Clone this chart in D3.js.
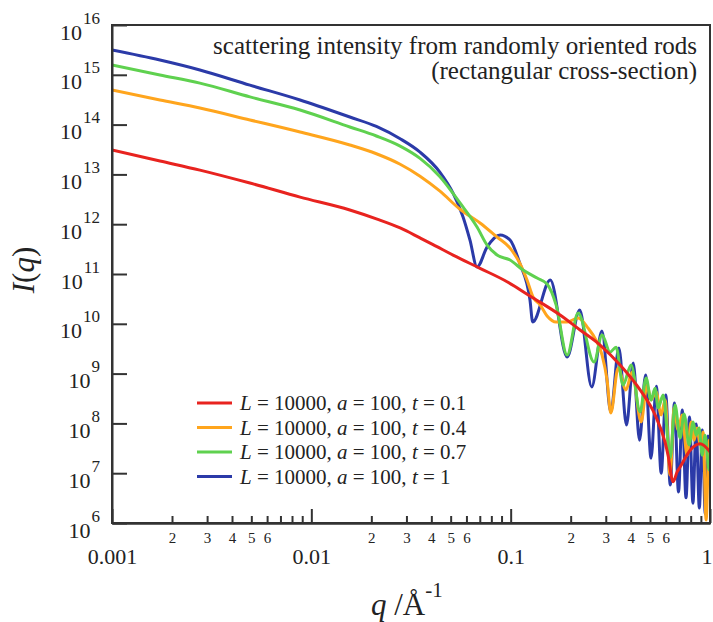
<!DOCTYPE html>
<html lang="en">
<head>
    <meta charset="UTF-8">
    <title>Scattering intensity from randomly oriented rods</title>
    <script src="https://d3js.org/d3.v7.min.js"></script>
    <style>
        html, body {
            margin: 0;
            background: #fff;
        }

        .curve {
            fill: none;
            stroke-width: 3px;
            stroke-linejoin: round;
        }

        .axis path, .axis line {
            stroke: #333;
            stroke-width: 2px;
        }
    </style>
</head>
<body>
<script>

    // values (q in 1/Angstrom, I(q))
    var qRed = [0.001, 0.00174, 0.00276, 0.00492, 0.00878, 0.0156, 0.0212, 0.0279, 0.0351, 0.0408, 0.0514, 0.0702,
        0.0959, 0.125, 0.177, 0.223, 0.281, 0.354, 0.446, 0.530, 0.595, 0.616, 0.653, 0.684, 0.708, 0.795, 0.892, 1.0];
    var iRed = [3.1e13, 1.86e13, 1.22e13, 6.7e12, 3.5e12, 1.93e12, 1.28e12, 8.4e11, 5.3e11, 3.9e11, 2.4e11, 1.3e11,
        7.0e10, 3.6e10, 1.5e10, 7.5e9, 3.75e9, 1.49e9, 4.7e8, 1.48e8, 4.2e7, 2.3e7, 6.7e6, 1.06e7, 1.33e7, 2.9e7,
        3.9e7, 2.7e7];

    var qOrange = [0.001, 0.00174, 0.00276, 0.00492, 0.00878, 0.0156, 0.0212, 0.0279, 0.0351, 0.0442, 0.0557, 0.0702,
        0.0855, 0.0993, 0.111, 0.1208, 0.1295, 0.1405, 0.1523, 0.169, 0.192, 0.218, 0.2446, 0.268, 0.2875, 0.3046,
        0.318, 0.346, 0.379, 0.4066, 0.451, 0.4835, 0.506, 0.5365, 0.5686, 0.5953, 0.631, 0.6605, 0.6918, 0.7244,
        0.7676, 0.8037, 0.8322, 0.8617, 0.892, 0.9235, 0.956, 0.990, 1.0];
    var iOrange = [4.95e14, 3.12e14, 2.15e14, 1.24e14, 7.1e13, 3.9e13, 2.6e13, 1.6e13, 9.2e12, 4.6e12, 2.0e12, 1.06e12,
        5.5e11, 3.3e11, 1.66e11, 7.6e10, 3.45e10, 2.4e10, 1.44e10, 1.09e10, 1.09e10, 1.31e10, 8.2e9, 4.7e9, 2.36e9,
        7.4e8, 1.62e8, 1.29e9, 4.7e8, 1.08e9, 1.07e8, 5.9e8, 2.95e8, 4.3e8, 1.48e8, 2.95e8, 9.2e6, 2.04e8, 7.4e7,
        1.48e8, 2.3e7, 1.07e8, 4.6e7, 8.1e7, 3.7e7, 6.7e7, 1.15e6, 4.6e7, 3.7e7];

    var qGreen = [0.001, 0.00174, 0.00276, 0.00492, 0.00878, 0.0156, 0.0212, 0.0279, 0.0351, 0.0442, 0.0557, 0.0678,
        0.0762, 0.0855, 0.0993, 0.1154, 0.1357, 0.1523, 0.169, 0.192, 0.218, 0.262, 0.2875, 0.315, 0.338, 0.366,
        0.402, 0.446, 0.478, 0.506, 0.530, 0.549, 0.582, 0.631, 0.668, 0.708, 0.741, 0.786, 0.823, 0.852, 0.882,
        0.913, 0.945, 0.990, 1.0];
    var iGreen = [1.57e15, 9.9e14, 6.8e14, 3.6e14, 1.96e14, 8.95e13, 5.9e13, 3.7e13, 2.1e13, 9.0e12, 2.67e12, 8.8e11,
        3.8e11, 2.4e11, 1.91e11, 1.2e11, 8.3e10, 6.3e10, 2.4e10, 2.36e9, 1.65e10, 1.71e9, 5.96e9, 2.7e9, 3.4e9, 5.9e8,
        1.49e9, 1.7e8, 8.2e8, 2.95e8, 5.1e8, 2.04e8, 3.7e8, 2.0e7, 2.34e8, 5.1e7, 1.55e8, 3.7e7, 1.07e8, 5.8e7,
        8.1e7, 2.3e7, 5.8e7, 1.16e7, 1.84e7];

    var qBlue = [0.001, 0.00174, 0.00276, 0.00492, 0.00878, 0.0156, 0.0212, 0.0279, 0.0351, 0.0442, 0.0514, 0.0577,
        0.0625, 0.0678, 0.0762, 0.0885, 0.0993, 0.111, 0.125, 0.129, 0.158, 0.192, 0.222, 0.255, 0.287, 0.318, 0.349,
        0.381, 0.412, 0.443, 0.475, 0.506, 0.538, 0.569, 0.600, 0.632, 0.663, 0.695, 0.726, 0.758, 0.789, 0.821,
        0.852, 0.884, 0.915, 0.947, 0.978, 1.0];
    var iBlue = [3.15e15, 1.98e15, 1.25e15, 6.2e14, 3.12e14, 1.42e14, 9.2e13, 5.2e13, 2.8e13, 1.1e13, 4.2e12, 1.4e12,
        4.8e11, 1.38e11, 3.5e11, 6.1e11, 4.8e11, 1.66e11, 3.0e10, 1.09e10, 7.6e10, 2.15e9, 1.9e10, 5.4e8, 7.2e9,
        1.7e8, 3.27e9, 9.3e7, 1.63e9, 4.6e7, 9.4e8, 2.0e7, 5.6e8, 1.0e7, 3.7e8, 5.8e6, 2.57e8, 4.2e6, 1.86e8, 3.2e6,
        1.35e8, 2.5e6, 9.7e7, 2.0e6, 7.4e7, 1.52e6, 5.6e7, 2.9e7];

    var tValues = ["0.1", "0.4", "0.7", "1"];
    var colors = ["#e8231f", "#ffa51d", "#5fd14f", "#2b3aa8"];
    var drawOrder = [3, 1, 2, 0];

    var xMajor = [0.001, 0.01, 0.1, 1];
    var xMajorLabels = ["0.001", "0.01", "0.1", "1"];
    var minorDigits = [2, 3, 4, 5, 6, 7, 8, 9];
    var labelledDigits = [2, 3, 4, 5, 6];
    var yExponents = [6, 7, 8, 9, 10, 11, 12, 13, 14, 15, 16];

    var titleLines = ["scattering intensity from randomly oriented rods", "(rectangular cross-section)"];

    var serif = '"Liberation Serif", "Times New Roman", "DejaVu Serif", serif';
    var ink = '#222';


    var width = 713, height = 622;
    var margin = {left: 112, right: 3, top: 25, bottom: 99};

    var svg = d3.select('body').append('svg')
        .attr('width', width).attr('height', height)
        .style('font-family', serif);

    var x = d3.scaleLog().domain([0.001, 1]).range([margin.left, width - margin.right]);
    var y = d3.scaleLog().domain([1e6, 1e16]).range([height - margin.bottom, margin.top]);

    var series = [
        d3.zip(qRed, iRed),
        d3.zip(qOrange, iOrange),
        d3.zip(qGreen, iGreen),
        d3.zip(qBlue, iBlue)
    ];

    svg.append('clipPath').attr('id', 'plot-clip')
        .append('rect')
        .attr('x', x.range()[0]).attr('y', y.range()[1])
        .attr('width', x.range()[1] - x.range()[0])
        .attr('height', y.range()[0] - y.range()[1]);

    var line = d3.line()
        .x(function (d) {
            return x(d[0]);
        })
        .y(function (d) {
            return y(d[1]);
        })
        .curve(d3.curveMonotoneX);

    var curves = svg.append('g').attr('clip-path', 'url(#plot-clip)');
    drawOrder.forEach(function (k) {
        curves.append('path')
            .attr('class', 'curve')
            .attr('stroke', colors[k])
            .attr('d', line(series[k]));
    });

    // frame
    svg.append('rect')
        .attr('x', x.range()[0]).attr('y', y.range()[1])
        .attr('width', x.range()[1] - x.range()[0])
        .attr('height', y.range()[0] - y.range()[1])
        .attr('fill', 'none').attr('stroke', '#333').attr('stroke-width', 2);

    function styleText(sel, size) {
        sel.style('font-family', serif).style('font-size', size).style('fill', ink);
    }

    // x axis: major ticks
    var xAxisMajor = d3.axisBottom(x)
        .tickValues(xMajor)
        .tickSize(-14)
        .tickSizeOuter(0)
        .tickPadding(25)
        .tickFormat(function (d) {
            return xMajorLabels[xMajor.indexOf(d)];
        });

    var xMinor = [];
    xMajor.slice(0, 3).forEach(function (dec) {
        minorDigits.forEach(function (m) {
            xMinor.push(+(dec * m).toPrecision(3));
        });
    });

    var xAxisMinor = d3.axisBottom(x)
        .tickValues(xMinor)
        .tickSize(-7)
        .tickSizeOuter(0)
        .tickPadding(9)
        .tickFormat(function (d) {
            var digit = Math.round(d / Math.pow(10, Math.floor(Math.log10(d) + 1e-9)));
            return labelledDigits.indexOf(digit) >= 0 ? digit : '';
        });

    var gxMinor = svg.append('g').attr('class', 'axis')
        .attr('transform', 'translate(0,' + y.range()[0] + ')')
        .call(xAxisMinor)
        .attr('font-family', null);
    styleText(gxMinor.selectAll('text'), '15px');

    var gxMajor = svg.append('g').attr('class', 'axis')
        .attr('transform', 'translate(0,' + y.range()[0] + ')')
        .call(xAxisMajor)
        .attr('font-family', null);
    styleText(gxMajor.selectAll('text'), '22px');
    // keep the "1" at the right edge inside the picture
    gxMajor.selectAll('.tick text').filter(function (d) {
        return d === 1;
    }).attr('text-anchor', 'end').attr('x', 2);

    // y axis
    var yAxis = d3.axisLeft(y)
        .tickValues(yExponents.map(function (e) {
            return Math.pow(10, e);
        }))
        .tickSize(-15)
        .tickSizeOuter(0)
        .tickFormat('');

    var gy = svg.append('g').attr('class', 'axis')
        .attr('transform', 'translate(' + x.range()[0] + ',0)')
        .call(yAxis)
        .attr('font-family', null);

    gy.selectAll('.tick').each(function (d) {
        var t = d3.select(this).select('text')
            .attr('x', -12).attr('y', 14).attr('dy', null)
            .attr('text-anchor', 'end');
        styleText(t, '22px');
        t.append('tspan').text('10');
        t.append('tspan').attr('dy', -16).attr('dx', 1).style('font-size', '17px')
            .text(Math.round(Math.log10(d)));
    });

    // axis titles
    var xTitle = svg.append('text').attr('x', 371).attr('y', 615);
    styleText(xTitle, '31px');
    xTitle.append('tspan').style('font-style', 'italic').text('q');
    xTitle.append('tspan').text(' /Å');
    xTitle.append('tspan').attr('dy', -18).style('font-size', '21px').text('-1');

    var yTitle = svg.append('text')
        .attr('transform', 'translate(34,270) rotate(-90)')
        .attr('text-anchor', 'middle');
    styleText(yTitle, '31px');
    yTitle.append('tspan').style('font-style', 'italic').text('I');
    yTitle.append('tspan').text('(');
    yTitle.append('tspan').style('font-style', 'italic').text('q');
    yTitle.append('tspan').text(')');

    // title
    var titles = svg.selectAll('.title').data(titleLines).enter().append('text')
        .attr('class', 'title')
        .attr('x', 697)
        .attr('y', function (d, i) {
            return 54 + i * 25;
        })
        .attr('text-anchor', 'end')
        .text(function (d) {
            return d;
        });
    styleText(titles, '25px');

    // legend
    var legend = svg.append('g').attr('transform', 'translate(197,403)');
    tValues.forEach(function (t, i) {
        var row = legend.append('g').attr('transform', 'translate(0,' + (i * 24.5) + ')');
        row.append('line').attr('x1', 0).attr('x2', 35).attr('y1', 0).attr('y2', 0)
            .attr('stroke', colors[i]).attr('stroke-width', 3);
        var txt = row.append('text').attr('x', 43).attr('y', 7);
        styleText(txt, '21px');
        txt.append('tspan').style('font-style', 'italic').text('L');
        txt.append('tspan').text(' = 10000, ');
        txt.append('tspan').style('font-style', 'italic').text('a');
        txt.append('tspan').text(' = 100, ');
        txt.append('tspan').style('font-style', 'italic').text('t');
        txt.append('tspan').text(' = ' + t);
    });

</script>
</body>
</html>
